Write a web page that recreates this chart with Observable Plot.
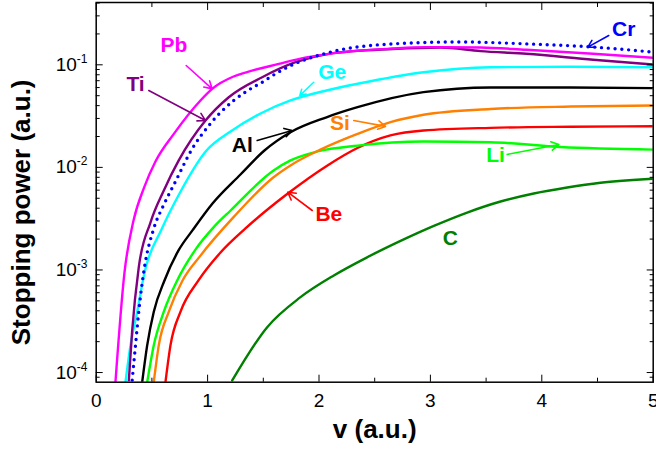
<!DOCTYPE html>
<html><head><meta charset="utf-8">
<script src="https://cdn.jsdelivr.net/npm/d3@7"></script>
<script src="https://cdn.jsdelivr.net/npm/@observablehq/plot@0.6"></script>
<style>body{margin:0;background:#fff}</style>
</head><body><div id="chart"></div>
<script>
// ---- data: [v (a.u.), stopping power (a.u.)] ----
const C  = [[1.221,8.37e-5],[1.535,2.77e-4],[1.834,5.43e-4],[2.133,8.84e-4],[2.433,1.33e-3],[2.732,1.92e-3],[3.031,2.69e-3],[3.33,3.63e-3],[3.63,4.65e-3],[3.928,5.57e-3],[4.228,6.37e-3],[4.527,7.08e-3],[5.0,7.74e-3]];
const Be = [[0.622,8.1e-5],[0.667,1.85e-4],[0.757,3.92e-4],[0.918,7.9e-4],[1.116,1.48e-3],[1.34,2.54e-3],[1.717,5.53e-3],[2.076,1.045e-2],[2.345,1.545e-2],[2.641,2.05e-2],[2.938,2.29e-2],[3.54,2.43e-2],[4.26,2.49e-2],[5.0,2.52e-2]];
const Li = [[0.458,8.1e-5],[0.517,1.85e-4],[0.607,3.92e-4],[0.727,7.9e-4],[0.891,1.58e-3],[1.053,2.6e-3],[1.206,3.8e-3],[1.592,9.33e-3],[1.744,1.17e-2],[1.987,1.43e-2],[2.346,1.63e-2],[2.938,1.79e-2],[3.54,1.76e-2],[4.168,1.58e-2],[5.0,1.49e-2]];
const Si = [[0.517,8.1e-5],[0.562,1.85e-4],[0.652,3.92e-4],[0.775,7.9e-4],[0.936,1.38e-3],[1.233,3.27e-3],[1.592,8.02e-3],[1.744,1.045e-2],[2.013,1.49e-2],[2.346,2.12e-2],[2.642,2.76e-2],[2.938,3.26e-2],[3.54,3.71e-2],[4.259,3.92e-2],[5.0,4.01e-2]];
const Al = [[0.413,8.1e-5],[0.458,1.85e-4],[0.517,3.92e-4],[0.613,7.9e-4],[0.739,1.55e-3],[0.864,2.43e-3],[1.044,4.45e-3],[1.295,8.53e-3],[1.51,1.46e-2],[1.744,2.2e-2],[2.067,3.08e-2],[2.346,3.86e-2],[2.938,5.41e-2],[3.54,6.01e-2],[4.259,6.01e-2],[5.0,5.92e-2]];
const Ge = [[0.263,8.1e-5],[0.308,1.85e-4],[0.368,3.92e-4],[0.434,9.46e-4],[0.586,2.48e-3],[0.748,5.57e-3],[0.99,1.46e-2],[1.206,2.24e-2],[1.475,3.35e-2],[1.744,4.49e-2],[2.067,5.62e-2],[2.346,6.53e-2],[2.938,8.47e-2],[3.54,9.48e-2],[4.259,9.57e-2],[5.0,9.48e-2]];
const Ti = [[0.293,8.38e-5],[0.323,2.57e-4],[0.382,1.06e-3],[0.487,2.9e-3],[0.607,5.96e-3],[0.741,1.17e-2],[0.981,2.86e-2],[1.19,4.83e-2],[1.49,7.57e-2],[1.789,0.106],[2.088,0.128],[2.66,0.1425],[3.091,0.1475],[3.45,0.136],[3.863,0.128],[4.461,0.112],[5.0,0.1007]];
const Pb = [[0.173,8.1e-5],[0.254,9.46e-4],[0.335,3.03e-3],[0.434,6.52e-3],[0.532,1.14e-2],[0.697,2.12e-2],[0.936,4.49e-2],[1.041,5.83e-2],[1.233,7.69e-2],[1.34,8.41e-2],[1.639,0.102],[1.834,0.115],[2.085,0.128],[2.66,0.144],[2.965,0.1486],[3.45,0.1476],[3.863,0.140],[4.461,0.128],[5.0,0.117]];
const Cr = [[0.323,8.43e-5],[0.353,1.85e-4],[0.382,3.92e-4],[0.427,9.6e-4],[0.517,2.54e-3],[0.604,4.26e-3],[0.712,7.3e-3],[0.862,1.52e-2],[1.005,2.51e-2],[1.118,3.45e-2],[1.235,4.49e-2],[1.361,5.62e-2],[1.49,6.76e-2],[1.61,8.17e-2],[1.729,9.62e-2],[2.067,0.130],[2.666,0.160],[3.264,0.167],[3.863,0.160],[4.461,0.149],[5.0,0.133]];

const elements = ["C","Be","Li","Si","Al","Ge","Ti","Pb","Cr"];
const series = {C, Be, Li, Si, Al, Ge, Ti, Pb, Cr};

// label annotations (data units)
const labelNames = ["Pb","Ti","Ge","Al","Si","Be","Li","Cr","C"];
const labelV = [0.697, 0.353, 2.118, 1.311, 2.187, 2.088, 3.584, 4.736, 3.18];
const labelS = [0.154, 0.0653, 0.0847, 0.0163, 0.0272, 0.00353, 0.01306, 0.2244, 0.00206];
const arrowNames = ["Pb","Ti","Ge","Al","Si","Be","Li","Cr"];
const arrowV1 = [0.808, 0.472, 1.953, 1.445, 2.312, 1.939, 3.689, 4.601];
const arrowS1 = [0.0985, 0.0562, 0.0676, 0.0183, 0.0286, 0.0038, 0.01337, 0.193];
const arrowV2 = [1.041, 0.981, 1.828, 1.759, 2.597, 1.72, 4.153, 4.413];
const arrowS2 = [0.0583, 0.0286, 0.0502, 0.0229, 0.0251, 0.00573, 0.0167, 0.1486];

// axes
const xMajor = [0, 1, 2, 3, 4, 5];
const xTickLabels = ["0", "1", "2", "3", "4", "5"];
const xMinor = [0.5, 1.5, 2.5, 3.5, 4.5];
const yMajor = [1e-4, 1e-3, 1e-2, 1e-1];
const yTickLabels = ["10^-4", "10^-3", "10^-2", "10^-1"];
const yMinor = [9e-5, 2e-4,3e-4,4e-4,5e-4,6e-4,7e-4,8e-4,9e-4, 2e-3,3e-3,4e-3,5e-3,6e-3,7e-3,8e-3,9e-3, 2e-2,3e-2,4e-2,5e-2,6e-2,7e-2,8e-2,9e-2, 0.2,0.3,0.4];
const xTitle = "v (a.u.)";
const yTitle = "Stopping power (a.u.)";

// ---- styles ----
const colors = {Pb:"#ff00ff", Ti:"#800080", Cr:"#0000ff", Ge:"#00ffff", Al:"#000000", Si:"#ff8000", Be:"#ff0000", Li:"#00ff00", C:"#008000"};

const rows = elements.flatMap(name => series[name].map(([v, s]) => ({name, v, s})));
const labels = labelNames.map((name, i) => ({name, v: labelV[i], s: labelS[i]}));
const arrows = arrowNames.map((name, i) => ({name, v1: arrowV1[i], s1: arrowS1[i], v2: arrowV2[i], s2: arrowS2[i]}));

const lineMarks = elements.map(name => Plot.line(rows.filter(d => d.name === name), {
  x: "v", y: "s", stroke: colors[name], clip: true, curve: "monotone-x",
  ...(name === "Cr"
    ? {strokeWidth: 3.4, strokeDasharray: "0 6.8", strokeLinecap: "round"}
    : {strokeWidth: 2.4})
}));
const labelMarks = labels.map(d => Plot.text([d], {x: "v", y: "s", text: "name", fill: colors[d.name], fontSize: 21, fontWeight: "bold"}));
const arrowMarks = arrows.map(d => Plot.arrow([d], {x1: "v1", y1: "s1", x2: "v2", y2: "s2", stroke: colors[d.name], strokeWidth: 1.6, headLength: 8}));

const svg = Plot.plot({
  width: 656, height: 457,
  marginLeft: 95.7, marginRight: 3.3, marginTop: 2, marginBottom: 75.3,
  style: {fontFamily: "'Liberation Sans', Arial, sans-serif", fontSize: "19px", background: "#fff", color: "#000"},
  x: {domain: [0, 5], label: null},
  y: {type: "log", domain: [8.05e-5, 0.405], label: null},
  marks: [
    ...lineMarks,
    ...arrowMarks,
    ...labelMarks,
    Plot.axisX({ticks: xMajor, tickSize: -7, tickPadding: 18.6, tickFormat: d => xTickLabels[xMajor.indexOf(d)], label: null, fontSize: 19}),
    Plot.axisX({ticks: xMinor, tickSize: -4, tickFormat: () => "", label: null}),
    Plot.axisX({anchor: "top", ticks: xMajor, tickSize: -7, tickFormat: () => "", label: null}),
    Plot.axisX({anchor: "top", ticks: xMinor, tickSize: -4, tickFormat: () => "", label: null}),
    Plot.axisY({ticks: yMajor, tickSize: -7, tickPadding: 15.7, tickFormat: d => yTickLabels[yMajor.indexOf(d)], label: null, fontSize: 19}),
    Plot.axisY({ticks: yMinor, tickSize: -4, tickFormat: () => "", label: null}),
    Plot.axisY({anchor: "right", ticks: yMajor, tickSize: -7, tickFormat: () => "", label: null}),
    Plot.axisY({anchor: "right", ticks: yMinor, tickSize: -4, tickFormat: () => "", label: null}),
    Plot.frame({stroke: "#000", strokeWidth: 1.5}),
    Plot.text([xTitle], {frameAnchor: "bottom", textAnchor: "middle", dy: 56, fontSize: 26, fontWeight: "bold"}),
    Plot.text([yTitle], {frameAnchor: "left", textAnchor: "middle", rotate: -90, dx: -74.7, dy: 20, fontSize: 26, fontWeight: "bold"})
  ]
});

// superscript exponents in y tick labels
svg.querySelectorAll("text").forEach(t => {
  const s = t.textContent;
  if (s.startsWith("10^")) {
    t.textContent = "10";
    const ts = document.createElementNS("http://www.w3.org/2000/svg", "tspan");
    ts.setAttribute("dy", "-8");
    ts.setAttribute("font-size", "12");
    ts.textContent = s.slice(3);
    t.appendChild(ts);
  }
});
document.getElementById("chart").appendChild(svg);
</script>
</body></html>
